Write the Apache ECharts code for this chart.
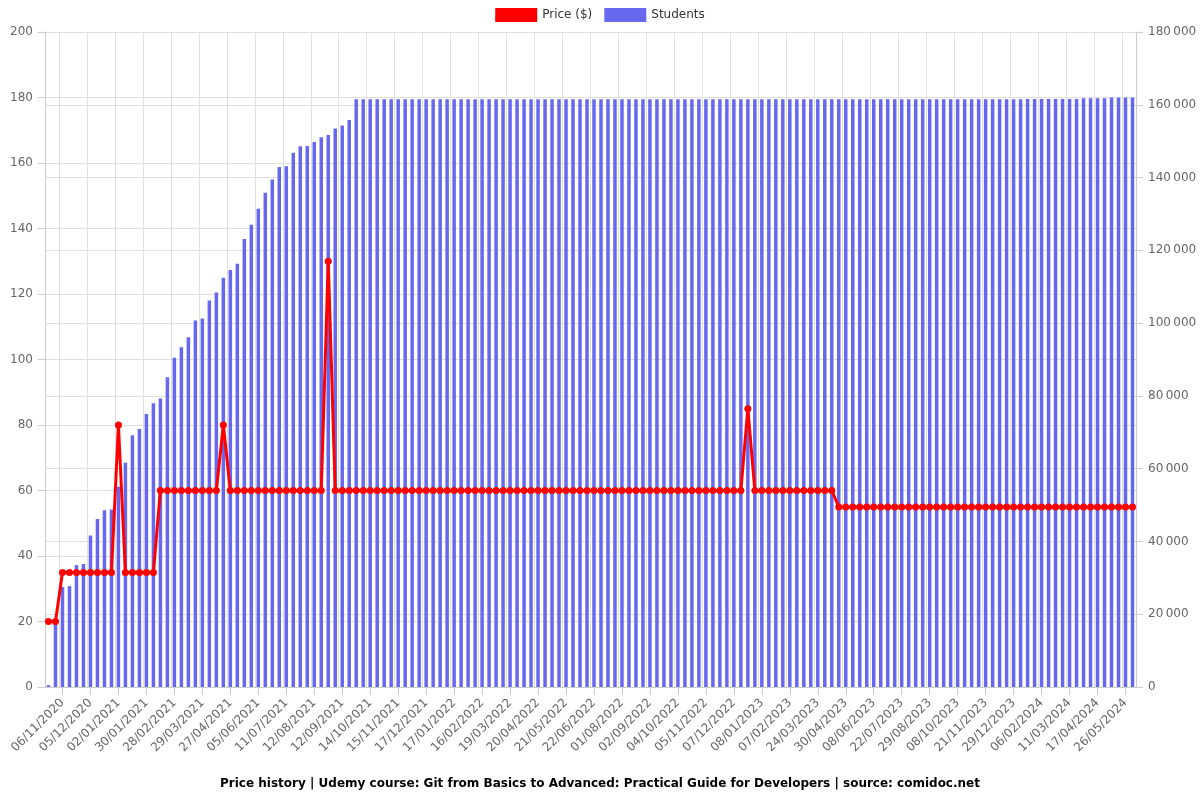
<!DOCTYPE html>
<html>
<head>
<meta charset="utf-8">
<script src="https://cdn.jsdelivr.net/npm/echarts@6/dist/echarts.min.js"></script>
<style>
  html, body { margin: 0; padding: 0; background: #ffffff; }
  #chart { width: 1200px; height: 800px; }
</style>
</head>
<body>
<div id="chart"></div>
<script>
// Category dates (one per data point)
const categories = [
  '23/10/2020','30/10/2020','06/11/2020','13/11/2020','20/11/2020','28/11/2020','05/12/2020','12/12/2020',
  '19/12/2020','26/12/2020','02/01/2021','09/01/2021','16/01/2021','23/01/2021','30/01/2021','07/02/2021',
  '14/02/2021','21/02/2021','28/02/2021','07/03/2021','14/03/2021','21/03/2021','29/03/2021','05/04/2021',
  '12/04/2021','19/04/2021','27/04/2021','06/05/2021','16/05/2021','26/05/2021','05/06/2021','14/06/2021',
  '23/06/2021','02/07/2021','11/07/2021','19/07/2021','27/07/2021','04/08/2021','12/08/2021','20/08/2021',
  '28/08/2021','04/09/2021','12/09/2021','20/09/2021','28/09/2021','06/10/2021','14/10/2021','22/10/2021',
  '30/10/2021','07/11/2021','15/11/2021','23/11/2021','01/12/2021','09/12/2021','17/12/2021','25/12/2021',
  '02/01/2022','10/01/2022','17/01/2022','25/01/2022','01/02/2022','09/02/2022','16/02/2022','24/02/2022',
  '04/03/2022','12/03/2022','19/03/2022','27/03/2022','04/04/2022','12/04/2022','20/04/2022','28/04/2022',
  '05/05/2022','13/05/2022','21/05/2022','29/05/2022','06/06/2022','14/06/2022','22/06/2022','02/07/2022',
  '12/07/2022','22/07/2022','01/08/2022','09/08/2022','17/08/2022','25/08/2022','02/09/2022','10/09/2022',
  '18/09/2022','26/09/2022','04/10/2022','12/10/2022','20/10/2022','28/10/2022','05/11/2022','13/11/2022',
  '21/11/2022','29/11/2022','07/12/2022','15/12/2022','23/12/2022','31/12/2022','08/01/2023','15/01/2023',
  '23/01/2023','30/01/2023','07/02/2023','18/02/2023','01/03/2023','12/03/2023','24/03/2023','02/04/2023',
  '11/04/2023','20/04/2023','30/04/2023','09/05/2023','19/05/2023','29/05/2023','08/06/2023','19/06/2023',
  '30/06/2023','11/07/2023','22/07/2023','01/08/2023','10/08/2023','20/08/2023','29/08/2023','08/09/2023',
  '18/09/2023','28/09/2023','08/10/2023','19/10/2023','30/10/2023','10/11/2023','21/11/2023','30/11/2023',
  '10/12/2023','19/12/2023','29/12/2023','08/01/2024','18/01/2024','27/01/2024','06/02/2024','14/02/2024',
  '23/02/2024','02/03/2024','11/03/2024','20/03/2024','30/03/2024','08/04/2024','17/04/2024','27/04/2024',
  '07/05/2024','16/05/2024','26/05/2024','04/06/2024'
];

// Price in USD per data point
const price = [
  20,20,35,35,35,35,35,35,35,35,80,35,35,35,35,35,
  60,60,60,60,60,60,60,60,60,80,60,60,60,60,60,60,
  60,60,60,60,60,60,60,60,130,60,60,60,60,60,60,60,
  60,60,60,60,60,60,60,60,60,60,60,60,60,60,60,60,
  60,60,60,60,60,60,60,60,60,60,60,60,60,60,60,60,
  60,60,60,60,60,60,60,60,60,60,60,60,60,60,60,60,
  60,60,60,60,85,60,60,60,60,60,60,60,60,60,60,60,
  60,55,55,55,55,55,55,55,55,55,55,55,55,55,55,55,
  55,55,55,55,55,55,55,55,55,55,55,55,55,55,55,55,
  55,55,55,55,55,55,55,55,55,55,55,55
];

// Enrolled students per data point
const students = [
  500,17700,27500,27700,33500,33800,41600,46200,48600,48800,55000,61600,69200,70900,75000,78000,
  79300,85100,90500,93400,96100,100700,101300,106200,108400,112500,114600,116300,123100,127000,131400,135800,
  139500,142900,143100,146800,148600,148700,149800,151100,151700,153500,154300,155800,161500,161500,161500,161500,
  161500,161500,161500,161500,161500,161500,161500,161500,161500,161500,161500,161500,161500,161500,161500,161500,
  161500,161500,161500,161500,161500,161500,161500,161500,161500,161500,161500,161500,161500,161500,161500,161500,
  161500,161500,161500,161500,161500,161500,161500,161500,161500,161500,161500,161500,161500,161500,161500,161500,
  161500,161500,161500,161500,161500,161500,161500,161500,161500,161500,161500,161500,161500,161500,161500,161500,
  161500,161500,161500,161500,161500,161500,161500,161500,161500,161500,161500,161500,161500,161500,161500,161500,
  161500,161500,161500,161500,161500,161500,161500,161500,161500,161500,161500,161500,161600,161600,161600,161600,
  161600,161600,161600,161600,161800,161800,161800,161800,162000,162000,162000,162000
];

const titleText = 'Price history | Udemy course: Git from Basics to Advanced: Practical Guide for Developers | source: comidoc.net';

const labelEvery = (idx) => idx % 4 === 2;
const fmtThousands = (v) => String(v).replace(/\B(?=(\d{3})+(?!\d))/g, '\u202f');

const chart = echarts.init(document.getElementById('chart'), null, { renderer: 'canvas' });
chart.setOption({
  animation: false,
  backgroundColor: '#ffffff',
  textStyle: { fontFamily: 'DejaVu Sans' },
  title: {
    text: titleText,
    left: 'center',
    bottom: 5,
    textStyle: { fontSize: 12, fontWeight: 'bold', color: '#000', fontFamily: 'DejaVu Sans' }
  },
  legend: {
    top: 3,
    left: 'center',
    icon: 'rect',
    itemWidth: 42,
    itemHeight: 14,
    itemGap: 12,
    textStyle: { fontSize: 12, color: '#333' },
    data: ['Price ($)', 'Students']
  },
  grid: { left: 45, right: 64, top: 32, bottom: 113, containLabel: false },
  xAxis: {
    type: 'category',
    data: categories,
    boundaryGap: true,
    axisLine: { show: true, lineStyle: { color: '#ccc' } },
    axisTick: { show: true, alignWithLabel: true, interval: labelEvery, length: 8, lineStyle: { color: '#ccc' } },
    axisLabel: { interval: labelEvery, rotate: 45, color: '#666', fontSize: 12, margin: 14 },
    splitLine: { show: true, interval: labelEvery, lineStyle: { color: '#e0e0e0' } }
  },
  yAxis: [
    {
      type: 'value',
      min: 0, max: 200, interval: 20,
      position: 'left',
      axisLine: { show: true, lineStyle: { color: '#ccc' } },
      axisTick: { show: true, length: 7, lineStyle: { color: '#ccc' } },
      axisLabel: { color: '#666', fontSize: 12, margin: 12 },
      splitLine: { show: true, lineStyle: { color: '#e0e0e0' } }
    },
    {
      type: 'value',
      min: 0, max: 180000, interval: 20000,
      position: 'right',
      axisLine: { show: true, lineStyle: { color: '#ccc' } },
      axisTick: { show: true, length: 7, lineStyle: { color: '#ccc' } },
      axisLabel: { color: '#666', fontSize: 12, margin: 12, formatter: fmtThousands },
      splitLine: { show: true, lineStyle: { color: '#e0e0e0' } }
    }
  ],
  series: [
    {
      name: 'Price ($)',
      type: 'line',
      yAxisIndex: 0,
      data: price,
      z: 3,
      symbol: 'circle',
      symbolSize: 7,
      showAllSymbol: true,
      itemStyle: { color: '#ff0000' },
      lineStyle: { color: '#ff0000', width: 3 }
    },
    {
      name: 'Students',
      type: 'bar',
      yAxisIndex: 1,
      data: students,
      z: 2,
      barWidth: '50%',
      itemStyle: { color: '#6868ee' }
    }
  ]
});
</script>
</body>
</html>
